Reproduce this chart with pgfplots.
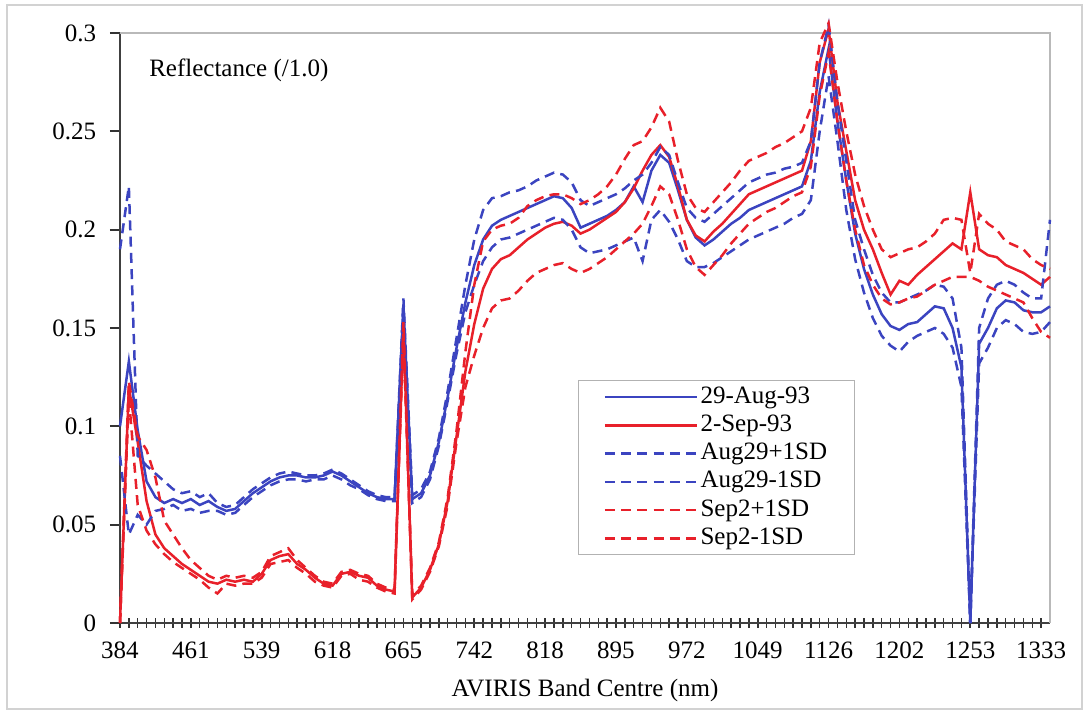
\documentclass[border=0pt]{standalone}
\usepackage{fontspec}
\setmainfont{Liberation Serif}
\usepackage{pgfplots}
\pgfplotsset{compat=1.18}
\usepackage{pgfplotstable}
\definecolor{augblue}{HTML}{3B44C0}
\definecolor{sepred}{HTML}{E8202A}

% band index (0 = 384 nm), mean and +/-1SD reflectance for both dates
\pgfplotstableread{
x A S Ap An Sp Sn
0 .100 .000 .190 .085 .000 .000
1 .133 .120 .222 .045 .123 .115
2 .098 .092 .085 .055 .095 .060
3 .072 .062 .080 .050 .088 .047
4 .064 .045 .076 .057 .074 .040
5 .061 .038 .072 .058 .052 .035
6 .063 .034 .068 .060 .045 .031
7 .061 .030 .066 .057 .038 .028
8 .063 .027 .067 .058 .032 .025
9 .060 .024 .064 .056 .028 .022
10 .062 .021 .066 .057 .024 .018
11 .059 .020 .061 .057 .022 .015
12 .057 .022 .059 .055 .024 .020
13 .058 .021 .060 .056 .023 .019
14 .062 .022 .064 .060 .024 .020
15 .066 .021 .068 .064 .023 .020
16 .069 .025 .071 .067 .026 .023
17 .072 .032 .074 .070 .034 .030
18 .074 .034 .076 .072 .036 .031
19 .075 .035 .077 .073 .038 .032
20 .075 .030 .076 .073 .032 .028
21 .074 .027 .075 .072 .028 .025
22 .074 .023 .075 .073 .024 .021
23 .075 .020 .076 .073 .021 .019
24 .077 .019 .078 .075 .020 .018
25 .075 .025 .076 .073 .026 .024
26 .072 .026 .073 .070 .027 .025
27 .069 .024 .070 .068 .025 .022
28 .066 .023 .067 .065 .024 .021
29 .064 .019 .065 .063 .020 .018
30 .063 .017 .064 .062 .018 .016
31 .063 .016 .064 .062 .017 .015
32 .162 .150 .165 .158 .153 .147
33 .063 .013 .065 .061 .014 .012
34 .066 .018 .068 .064 .019 .017
35 .075 .027 .077 .073 .028 .026
36 .092 .040 .094 .090 .041 .039
37 .115 .062 .118 .113 .064 .060
38 .140 .095 .145 .137 .098 .092
39 .163 .128 .172 .158 .138 .120
40 .182 .152 .195 .172 .172 .136
41 .195 .170 .210 .184 .194 .150
42 .202 .180 .216 .191 .200 .160
43 .205 .185 .217 .195 .202 .164
44 .207 .187 .219 .196 .203 .165
45 .209 .191 .220 .198 .206 .169
46 .211 .195 .222 .200 .212 .174
47 .213 .198 .225 .202 .215 .178
48 .215 .201 .227 .204 .217 .180
49 .217 .203 .229 .206 .218 .182
50 .216 .204 .228 .205 .218 .183
51 .211 .202 .224 .200 .216 .180
52 .201 .198 .215 .191 .213 .178
53 .203 .200 .212 .188 .215 .180
54 .205 .203 .214 .189 .218 .183
55 .207 .206 .216 .190 .222 .186
56 .210 .209 .218 .192 .228 .190
57 .214 .214 .221 .194 .236 .194
58 .222 .221 .225 .196 .243 .198
59 .214 .230 .228 .184 .245 .203
60 .230 .238 .234 .205 .252 .212
61 .238 .243 .242 .210 .262 .222
62 .234 .237 .238 .204 .255 .218
63 .220 .222 .224 .195 .235 .205
64 .205 .205 .211 .184 .218 .190
65 .196 .197 .206 .181 .211 .181
66 .192 .194 .204 .181 .209 .177
67 .195 .199 .208 .183 .214 .182
68 .199 .203 .212 .186 .219 .187
69 .203 .208 .216 .189 .224 .193
70 .206 .213 .220 .192 .230 .198
71 .210 .218 .224 .195 .235 .203
72 .212 .220 .226 .197 .237 .206
73 .214 .222 .228 .199 .239 .209
74 .216 .224 .229 .201 .242 .211
75 .218 .226 .231 .203 .244 .214
76 .220 .228 .232 .206 .247 .217
77 .222 .230 .234 .208 .250 .219
78 .235 .245 .245 .215 .262 .232
79 .270 .285 .285 .250 .295 .268
80 .292 .302 .304 .278 .305 .290
81 .255 .265 .265 .245 .275 .255
82 .225 .240 .235 .210 .250 .225
83 .198 .215 .205 .185 .228 .200
84 .180 .200 .190 .168 .212 .182
85 .167 .190 .177 .155 .200 .172
86 .157 .178 .168 .146 .190 .165
87 .151 .167 .163 .141 .186 .162
88 .149 .174 .163 .138 .188 .163
89 .152 .172 .165 .143 .190 .165
90 .153 .177 .167 .146 .191 .166
91 .157 .181 .169 .148 .194 .169
92 .161 .185 .172 .150 .198 .172
93 .160 .189 .171 .147 .205 .174
94 .150 .193 .165 .140 .206 .176
95 .130 .190 .140 .120 .205 .176
96 .000 .219 .000 .000 .178 .176
97 .142 .190 .150 .132 .208 .174
98 .150 .187 .165 .140 .203 .171
99 .160 .186 .172 .150 .200 .169
100 .164 .182 .174 .154 .194 .167
101 .163 .180 .172 .152 .192 .165
102 .159 .178 .168 .148 .190 .163
103 .158 .175 .165 .147 .185 .155
104 .158 .172 .165 .148 .182 .148
105 .161 .176 .205 .153 .180 .145
}\spectra

\begin{document}
\begin{tikzpicture}
\begin{axis}[
  name=ax,
  scale only axis,
  width=372pt, height=236pt,
  xmin=0, xmax=105, ymin=0, ymax=0.3,
  clip=false,
  axis x line*=bottom, axis y line*=left,
  axis line style={black!75, line width=0.7pt},
  xtick={0,8,...,104},
  xticklabels={384,461,539,618,665,742,818,895,972,1049,1126,1202,1253,1333},
  minor x tick num=7,
  xtick align=center,
  ytick={0,0.05,0.1,0.15,0.2,0.25,0.3},
  yticklabels={0,0.05,0.1,0.15,0.2,0.25,0.3},
  ytick align=outside,
  major tick length=4pt, minor tick length=4pt,
  every tick/.style={black!80, line width=0.7pt},
  every minor tick/.style={black!80, line width=0.6pt},
  xticklabel style={yshift=-2pt},
  yticklabel style={xshift=-2pt},
  xlabel={AVIRIS Band Centre (nm)},
  xlabel style={at={(axis description cs:0.5,0)}, anchor=center, yshift=-27pt},
  every axis plot/.append style={line width=1pt},
  legend style={at={(0.4925,0.412)}, anchor=north west, draw=gray!60,
    inner xsep=10pt, inner ysep=1pt,
    nodes={inner sep=0.8pt, text height=7.3pt, text depth=2.4pt}},
  legend cell align=left,
  legend image code/.code={\draw[#1] (0pt,0pt) -- (37pt,0pt);},
]
\draw[gray!55, line width=0.6pt] (rel axis cs:0,1) -- (rel axis cs:1,1) -- (rel axis cs:1,0);
\addplot[augblue] table[x=x, y=A] {\spectra};
\addlegendentry{29-Aug-93}
\addplot[sepred] table[x=x, y=S] {\spectra};
\addlegendentry{2-Sep-93}
\addplot[augblue, dash pattern=on 4pt off 2.5pt] table[x=x, y=Ap] {\spectra};
\addlegendentry{Aug29+1SD}
\addplot[augblue, dash pattern=on 4pt off 2.5pt] table[x=x, y=An] {\spectra};
\addlegendentry{Aug29-1SD}
\addplot[sepred, dash pattern=on 4pt off 2.5pt] table[x=x, y=Sp] {\spectra};
\addlegendentry{Sep2+1SD}
\addplot[sepred, dash pattern=on 4pt off 2.5pt] table[x=x, y=Sn] {\spectra};
\addlegendentry{Sep2-1SD}
\node[anchor=west] at (rel axis cs:0.022,0.937) {Reflectance (/1.0)};
\end{axis}
\draw[gray!35, line width=0.8pt] ([xshift=-45.2pt,yshift=-34.4pt]ax.south west) rectangle ([xshift=12.8pt,yshift=11.2pt]ax.north east);
\path ([xshift=-48pt,yshift=-36.4pt]ax.south west) rectangle ([xshift=14.4pt,yshift=13.2pt]ax.north east);
\end{tikzpicture}
\end{document}
